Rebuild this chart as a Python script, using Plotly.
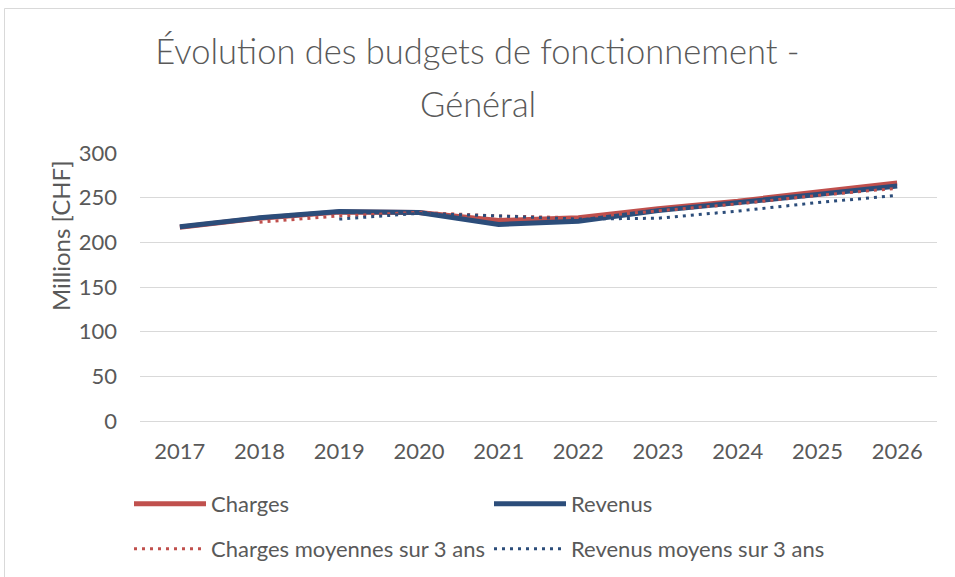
import plotly.graph_objects as go

years = ["2017", "2018", "2019", "2020", "2021", "2022", "2023", "2024", "2025", "2026"]
charges = [217, 227, 234, 233.5, 224.5, 227.5, 237.5, 246, 256.5, 266.5]
revenus = [217.5, 227.5, 234.5, 233.5, 220, 223.5, 235.5, 244, 253.5, 263]
charges_moy = [None, 222.5, 229.5, 233.5, 229.5, 227.5, 235, 243, 252.5, 260.5]
revenus_moy = [None, None, 226, 232.5, 229.5, 226, 227, 235, 244.5, 252.5]
y_ticks = [0, 50, 100, 150, 200, 250, 300]

RED = "#C0504D"
BLUE = "#2C4D7A"
GRAY = "#595959"
GRID = "#D9D9D9"
FONT = "Lato"

W, H = 955, 577
L, R, T, B = 140, 18, 153, 156
pw, ph = W - L - R, H - T - B

def px_x(p):
    return (p - L) / pw

def px_y(p):
    return (H - B - p) / ph

fig = go.Figure()
fig.add_trace(go.Scatter(x=years, y=charges, name="Charges", mode="lines",
                         line=dict(color=RED, width=5), legend="legend"))
fig.add_trace(go.Scatter(x=years, y=revenus, name="Revenus", mode="lines",
                         line=dict(color=BLUE, width=5), legend="legend"))
fig.add_trace(go.Scatter(x=years, y=charges_moy, name="Charges moyennes sur 3 ans", mode="lines",
                         line=dict(color=RED, width=3, dash="3px,5px"), legend="legend2"))
fig.add_trace(go.Scatter(x=years, y=revenus_moy, name="Revenus moyens sur 3 ans", mode="lines",
                         line=dict(color=BLUE, width=3, dash="3px,5px"), legend="legend2"))

leg_common = dict(orientation="h", xanchor="left", yanchor="middle",
                  font=dict(family=FONT, size=22, color=GRAY),
                  itemwidth=72, entrywidth=273, entrywidthmode="pixels",
                  bgcolor="rgba(0,0,0,0)", traceorder="normal", itemclick=False)

fig.update_layout(
    width=W, height=H,
    margin=dict(l=L, r=R, t=T, b=B, autoexpand=False),
    paper_bgcolor="white", plot_bgcolor="white",
    font=dict(family=FONT, color=GRAY, size=22),
    title=dict(text="Évolution des budgets de fonctionnement -",
               x=0.5, xref="container", xanchor="center",
               y=1 - 52 / H, yref="container", yanchor="middle",
               font=dict(family=FONT, size=34.5, color=GRAY, weight=300)),
    xaxis=dict(type="category", range=[-0.5, len(years) - 0.5], showgrid=False,
               showline=False, zeroline=False, ticks="",
               tickfont=dict(family=FONT, size=22, color=GRAY),
               ticklabelstandoff=15, fixedrange=True),
    yaxis=dict(range=[0, 300], tickvals=y_ticks, showgrid=True, gridcolor=GRID,
               gridwidth=1.3, zeroline=True, zerolinecolor=GRID, zerolinewidth=1.3,
               showline=False, ticks="", ticklabelstandoff=22,
               tickfont=dict(family=FONT, size=22, color=GRAY),
               fixedrange=True),
    legend=dict(x=px_x(129), y=px_y(504), **leg_common),
    legend2=dict(x=px_x(129), y=px_y(549), **leg_common),
    showlegend=True,
    hovermode=False,
    annotations=[
        dict(text="Général", xref="paper", yref="paper", x=px_x(W / 2), y=px_y(103),
             xanchor="center", yanchor="middle", showarrow=False,
             font=dict(family=FONT, size=34.5, color=GRAY, weight=300)),
        dict(text="Millions [CHF]", xref="paper", yref="paper", x=px_x(60), y=px_y(236),
             xanchor="center", yanchor="middle", textangle=-90, showarrow=False,
             font=dict(family=FONT, size=24, color=GRAY)),
    ],
    shapes=[dict(type="rect", xref="paper", yref="paper",
                 x0=px_x(4.5), x1=px_x(1200), y0=px_y(1000), y1=px_y(8.5),
                 line=dict(color=GRID, width=1), fillcolor="rgba(0,0,0,0)", layer="below")],
)

fig.write_html("out.html", config={"displayModeBar": False},
               post_script="document.body.style.margin='0';")
